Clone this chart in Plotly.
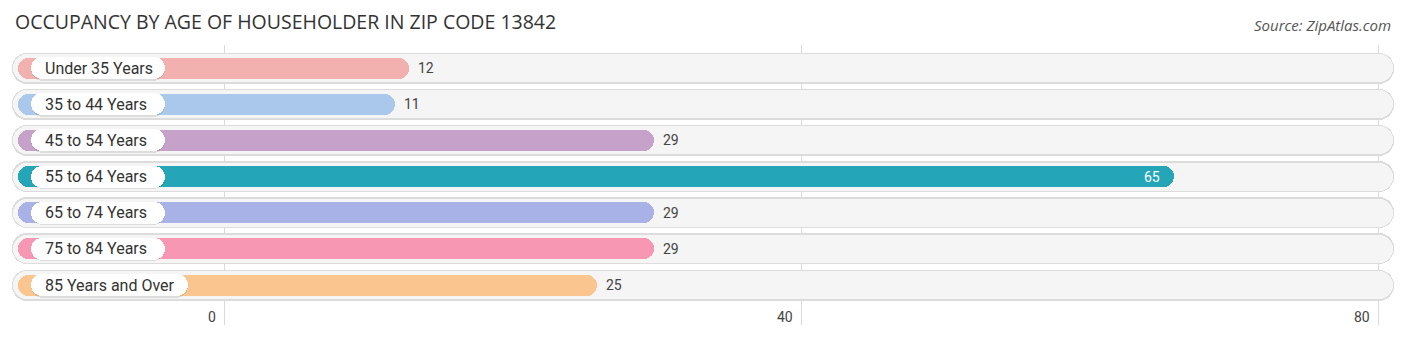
import plotly.graph_objects as go

# Data
categories = ["Under 35 Years", "35 to 44 Years", "45 to 54 Years", "55 to 64 Years",
              "65 to 74 Years", "75 to 84 Years", "85 Years and Over"]
values = [12, 11, 29, 65, 29, 29, 25]
colors = ["#f2b1ae", "#a9c8ec", "#c6a2ca", "#24a5b8", "#a8b2e7", "#f797b4", "#fbc590"]
tick_values = [0, 40, 80]
tick_labels = ["0", "40", "80"]

# Geometry (pixel scale of the x axis: 0 -> 224px, 80 -> 1378px)
W, H = 1406, 340
PX = (1378 - 224) / 80.0
x0 = -224 / PX
x1 = (W - 224) / PX
TOP, BOT = 45, 15
PLOT_H = H - TOP - BOT
ROW0, ROWSTEP = 68, 36.17
y_top = (TOP - ROW0) / ROWSTEP
y_bot = (H - BOT - ROW0) / ROWSTEP
ypix = lambda p: p / ROWSTEP  # pixel height -> y units
paper_y = lambda p: 1 - (p - TOP) / PLOT_H  # pixel row -> paper y

n = len(categories)
ys = list(range(n))
cap = 12 / PX            # rounded end extends past the value
bar_start = (18 - 224) / PX
track_start = (13 - 224) / PX
track_end = (1393 - 224) / PX
pill_start = (31 - 224) / PX


def pill_width(label):
    return (len(label) * 7.7 + 26) / PX


fig = go.Figure()

# Background tracks (border then fill)
fig.add_trace(go.Bar(
    y=ys, x=[track_end - track_start + 2 / PX] * n, base=[track_start - 1 / PX] * n,
    orientation="h", width=ypix(31), marker=dict(color="#dcdcdc", cornerradius="50%", line=dict(width=0)),
    hoverinfo="skip", showlegend=False))
fig.add_trace(go.Bar(
    y=ys, x=[track_end - track_start] * n, base=[track_start] * n,
    orientation="h", width=ypix(28), marker=dict(color="#f5f5f5", cornerradius="50%", line=dict(width=0)),
    hoverinfo="skip", showlegend=False))

# Value bars
fig.add_trace(go.Bar(
    y=ys, x=[v + cap - bar_start for v in values], base=[bar_start] * n,
    orientation="h", width=ypix(21), marker=dict(color=colors, cornerradius="50%", line=dict(width=0)),
    hoverinfo="skip", showlegend=False))

# Label pills: soft shadow then white pill
fig.add_trace(go.Bar(
    y=[y + ypix(1) for y in ys], x=[pill_width(c) for c in categories], base=[pill_start] * n,
    orientation="h", width=ypix(23), marker=dict(color="rgba(0,0,0,0.10)", cornerradius="50%", line=dict(width=0)),
    hoverinfo="skip", showlegend=False))
fig.add_trace(go.Bar(
    y=ys, x=[pill_width(c) for c in categories], base=[pill_start] * n,
    orientation="h", width=ypix(22), marker=dict(color="#ffffff", cornerradius="50%", line=dict(width=0)),
    hoverinfo="skip", showlegend=False))

annotations = []
for y, c in zip(ys, categories):
    annotations.append(dict(x=pill_start, y=y, text=c, xanchor="left", yanchor="middle",
                            xshift=12, showarrow=False,
                            font=dict(family="Roboto", size=16, color="#333333")))

vmax = max(values)
for y, v in zip(ys, values):
    if v == vmax:
        annotations.append(dict(x=v + cap, y=y, text=str(v), xanchor="right", yanchor="middle",
                                xshift=-12, showarrow=False,
                                font=dict(family="Roboto", size=14, color="#ffffff")))
    else:
        annotations.append(dict(x=v + cap, y=y, text=str(v), xanchor="left", yanchor="middle",
                                xshift=7, showarrow=False,
                                font=dict(family="Roboto", size=14, color="#444444")))

# Axis tick labels, right-aligned just left of each gridline
for tv, tl in zip(tick_values, tick_labels):
    annotations.append(dict(x=tv, y=paper_y(317), yref="paper", text=tl, xanchor="right", yanchor="middle",
                            xshift=-6, showarrow=False,
                            font=dict(family="Roboto", size=14, color="#444444")))

# Title and source
annotations.append(dict(xref="paper", yref="paper", x=13 / W, y=paper_y(21),
                        text="OCCUPANCY BY AGE OF HOUSEHOLDER IN ZIP CODE 13842",
                        showarrow=False, xanchor="left", yanchor="middle",
                        font=dict(family="Open Sans", size=19.5, color="#333333")))
annotations.append(dict(xref="paper", yref="paper", x=1393 / W, y=paper_y(25),
                        text="<i>Source: ZipAtlas.com</i>", showarrow=False, xanchor="right", yanchor="middle",
                        font=dict(family="Open Sans", size=15, color="#555555")))

fig.update_layout(
    width=W, height=H,
    margin=dict(l=0, r=0, t=TOP, b=BOT, pad=0),
    paper_bgcolor="white", plot_bgcolor="white",
    barmode="overlay", bargap=0,
    showlegend=False,
    xaxis=dict(range=[x0, x1], tickvals=tick_values, showticklabels=False,
               showgrid=True, gridcolor="#d9d9d9", gridwidth=1, zeroline=False,
               ticks="", showline=False, fixedrange=True),
    yaxis=dict(range=[y_bot, y_top], showgrid=False, zeroline=False, showticklabels=False,
               showline=False, fixedrange=True),
    annotations=annotations,
)

fig.write_html("out.html")
